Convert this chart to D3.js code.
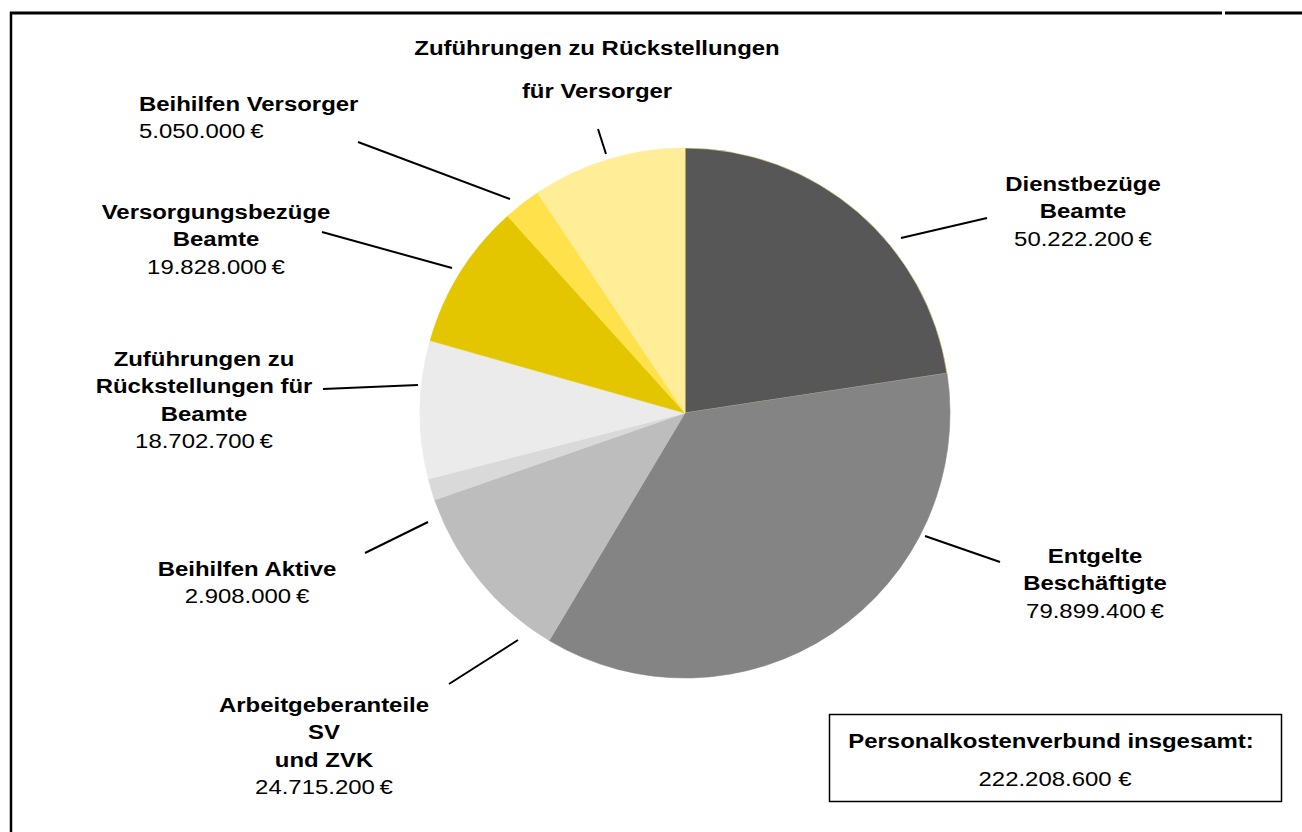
<!DOCTYPE html>
<html>
<head>
<meta charset="utf-8">
<script src="https://cdn.jsdelivr.net/npm/d3@7"></script>
<style>
  body { margin: 0; background: #fff; }
  svg { display: block; font-family: "Liberation Sans", Arial, sans-serif; }
</style>
</head>
<body>
<svg id="chart" width="1302" height="832"></svg>
<script>
// data, clockwise from 12 o'clock
var categories = ["Dienstbezüge Beamte", "Entgelte Beschäftigte", "Arbeitgeberanteile SV und ZVK",
  "Beihilfen Aktive", "Zuführungen zu Rückstellungen für Beamte", "Versorgungsbezüge Beamte",
  "Beihilfen Versorger", "Zuführungen zu Rückstellungen für Versorger"];
var values = [50222200, 79899400, 24715200, 2908000, 18702700, 19828000, 5050000, 20883100];
var colors = ["#575757", "#848484", "#bdbdbd", "#d9d9d9", "#ebebeb", "#e3c600", "#ffe14b", "#ffed97"];
var totalLabel = "222.208.600 €";

// label layout: bold lines, value shown?, anchor, x, y of first baseline, leader line (x1,y1,x2,y2)
var labelLayout = [
  {bold: ["Dienstbezüge", "Beamte"], val: true, anchor: "middle", x: 1083, y: 191, line: [901, 238, 987, 218]},
  {bold: ["Entgelte", "Beschäftigte"], val: true, anchor: "middle", x: 1095, y: 563, line: [925, 536, 1000, 562]},
  {bold: ["Arbeitgeberanteile", "SV", "und  ZVK"], val: true, anchor: "middle", x: 324, y: 712, line: [449, 684, 518, 640]},
  {bold: ["Beihilfen Aktive"], val: true, anchor: "middle", x: 247, y: 576, line: [365, 553, 428, 522]},
  {bold: ["Zuführungen zu", "Rückstellungen für", "Beamte"], val: true, anchor: "middle", x: 204, y: 366, line: [323, 389, 418, 385]},
  {bold: ["Versorgungsbezüge", "Beamte"], val: true, anchor: "middle", x: 216, y: 219, line: [322, 232, 452, 268]},
  {bold: ["Beihilfen Versorger"], val: true, anchor: "start", x: 139, y: 111, line: [358, 142, 510, 199]},
  {bold: ["Zuführungen zu Rückstellungen", "für Versorger"], val: false, anchor: "middle", x: 597, y: 55, lineGap: 43, line: [598, 129, 606, 154]}
];

var svg = d3.select("#chart");
var cx = 685, cy = 413, radius = 265;
var fontSize = 21, stretch = 1.14;   // source text is slightly wider than Arial

var fmt = d3.formatLocale({decimal: ",", thousands: ".", grouping: [3], currency: ["", " €"]}).format(",d");

function addText(x, y) {
  return svg.append("text")
    .attr("transform", "translate(" + x + "," + y + ") scale(" + stretch + ",1)")
    .attr("fill", "#000").attr("font-size", fontSize);
}

// frame
svg.append("line").attr("x1", 10).attr("y1", 13).attr("x2", 1222).attr("y2", 13)
  .attr("stroke", "#000").attr("stroke-width", 3);
svg.append("line").attr("x1", 1225).attr("y1", 13).attr("x2", 1302).attr("y2", 13)
  .attr("stroke", "#000").attr("stroke-width", 3);
svg.append("line").attr("x1", 11).attr("y1", 12).attr("x2", 11).attr("y2", 832)
  .attr("stroke", "#000").attr("stroke-width", 2.5);

var pie = d3.pie().sort(null).value(function(d) { return d; });
var arc = d3.arc().innerRadius(0).outerRadius(radius);

var g = svg.append("g").attr("transform", "translate(" + cx + "," + cy + ")");
g.selectAll("path.slice")
  .data(pie(values))
  .enter()
  .append("path")
  .attr("class", "slice")
  .attr("d", arc)
  .attr("fill", function(d, i) { return colors[i]; })
  .attr("stroke", function(d, i) { return i == 0 ? "#f0e68c" : colors[i]; })
  .attr("stroke-width", 0.6);

// labels + leader lines
labelLayout.forEach(function(L, i) {
  svg.append("line")
    .attr("x1", L.line[0]).attr("y1", L.line[1]).attr("x2", L.line[2]).attr("y2", L.line[3])
    .attr("stroke", "#000").attr("stroke-width", 2);
  var gap = L.lineGap || 27.5;
  var t = addText(L.x, L.y).attr("text-anchor", L.anchor);
  L.bold.forEach(function(s, j) {
    t.append("tspan").attr("x", 0).attr("y", j * gap).attr("font-weight", "bold").text(s);
  });
  if (L.val) {
    t.append("tspan").attr("x", 0).attr("y", L.bold.length * gap)
      .text(fmt(values[i]) + "\u2009€");
  }
});

// total box
svg.append("rect").attr("x", 829.5).attr("y", 714.5).attr("width", 452).attr("height", 87)
  .attr("fill", "#fff").attr("stroke", "#000").attr("stroke-width", 1.5);
addText(1051, 748).attr("text-anchor", "middle").attr("font-weight", "bold")
  .text("Personalkostenverbund insgesamt:");
addText(1055, 786).attr("text-anchor", "middle").text(totalLabel);
</script>
</body>
</html>
